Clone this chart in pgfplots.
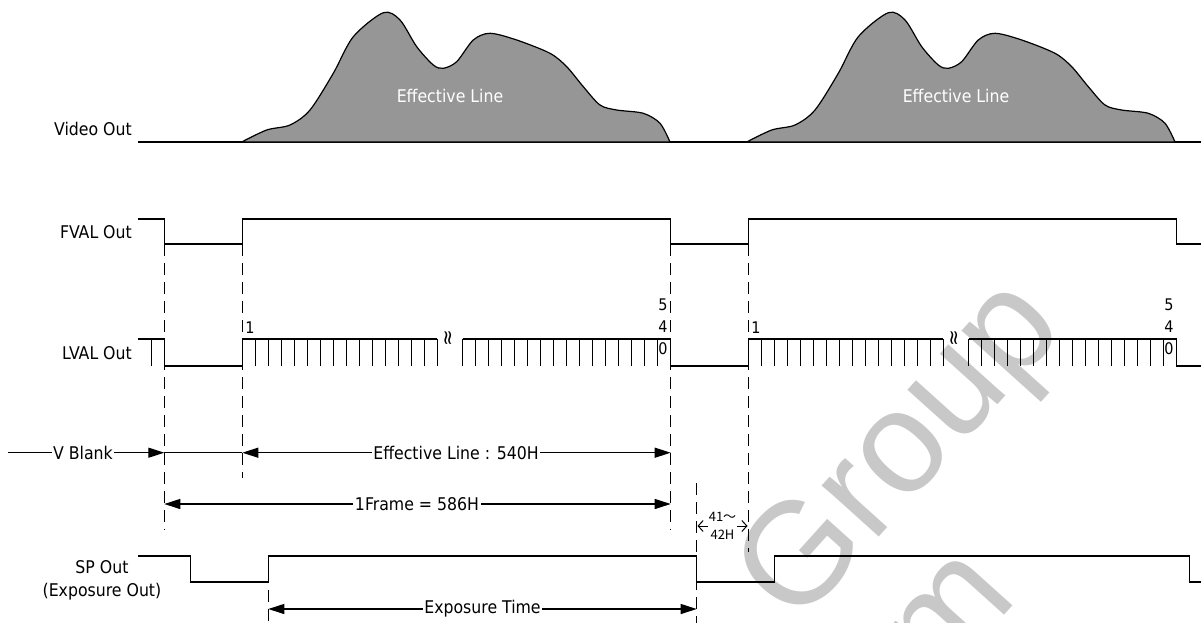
\documentclass[border=0pt]{standalone}
\usepackage{pgfplots}
\pgfplotsset{compat=1.18}
\usetikzlibrary{arrows.meta}
\usepackage{fontspec}
\setmainfont{DejaVu Sans Condensed}
\newfontfamily\cjk{Noto Sans CJK JP}
\newfontfamily\wmfont{Liberation Sans}
\newfontfamily\dvs{DejaVu Sans}
\definecolor{hump}{RGB}{150,150,150}
\definecolor{wm}{RGB}{200,200,200}
\newcommand\lab{\fontsize{17.5}{21}\selectfont}
\begin{document}
\begin{tikzpicture}
\useasboundingbox (0pt,0pt) rectangle (1201pt,623pt);
\begin{scope}
\clip (0pt,0pt) rectangle (1201pt,623pt);
\node[text=wm, rotate=48, font=\wmfont\fontsize{145}{165}\selectfont] at (905pt,168pt) {Group};
\node[text=wm, rotate=48, font=\wmfont\fontsize{145}{165}\selectfont] at (950pt,5pt) {m};
\end{scope}
\begin{axis}[at={(0pt,0pt)}, anchor=south west, width=1201pt, height=623pt, scale only axis,
  xmin=0, xmax=1201, ymin=0, ymax=623, y dir=reverse, hide axis, clip=false, unbounded coords=jump]
% Video baseline
\addplot[black, line width=1.3pt] coordinates {(138,142) (1201,142)};
% humps
\addplot[black, line width=1.2pt, fill=hump, smooth] coordinates {
(241.7,142) (266.7,130) (290,125) (310,110) (333.3,73.3) (353.3,36.7) (383.3,12.7) (400,20) (416.7,46.7) (433.3,65) (443.3,68.3) (456.7,61.7) (473.3,40) (490,33.3) (516.7,40) (550,53.3) (566.7,66.7) (583.3,86.7) (600,105) (616.7,110) (643.3,113.3) (660,123.3) (670,142)} -- cycle;
\addplot[black, line width=1.2pt, fill=hump, smooth] coordinates {
(746.7,142) (771.7,130) (795,125) (815,110) (838.3,73.3) (858.3,36.7) (888.3,12.7) (905,20) (921.7,46.7) (938.3,65) (948.3,68.3) (961.7,61.7) (978.3,40) (995,33.3) (1021.7,40) (1055,53.3) (1071.7,66.7) (1088.3,86.7) (1105,105) (1121.7,110) (1148.3,113.3) (1165,123.3) (1175,142)} -- cycle;
% FVAL
\addplot[black, line width=1.3pt] coordinates {(138,219) (164.3,219) (164.3,244) (242.3,244) (242.3,219) (670.7,219) (670.7,244) (748.3,244) (748.3,219) (1176.7,219) (1176.7,244) (1201,244)};
% LVAL
\addplot[black, line width=1.3pt] coordinates {(138,339) (164.3,339) (164.3,366) (242.3,366) (242.3,339) (437.3,339) (450,nan) (462.7,339) (670.7,339) (670.7,366) (748.3,366) (748.3,339) (943.3,339) (956,nan) (968.7,339) (1176.7,339) (1176.7,366) (1201,366)};
\addplot[only marks, mark=|, mark size=13.5pt, mark options={line width=1.3pt, black}] coordinates {
(151.3,352.5) (255.3,352.5) (268.3,352.5) (281.3,352.5) (294.3,352.5) (307.3,352.5) (320.3,352.5) (333.3,352.5) (346.3,352.5) (359.3,352.5) (372.3,352.5) (385.3,352.5) (398.3,352.5) (411.3,352.5) (424.3,352.5) (437.3,352.5)
(462.7,352.5) (475.7,352.5) (488.7,352.5) (501.7,352.5) (514.7,352.5) (527.7,352.5) (540.7,352.5) (553.7,352.5) (566.7,352.5) (579.7,352.5) (592.7,352.5) (605.7,352.5) (618.7,352.5) (631.7,352.5) (644.7,352.5) (657.7,352.5)
(761.3,352.5) (774.3,352.5) (787.3,352.5) (800.3,352.5) (813.3,352.5) (826.3,352.5) (839.3,352.5) (852.3,352.5) (865.3,352.5) (878.3,352.5) (891.3,352.5) (904.3,352.5) (917.3,352.5) (930.3,352.5) (943.3,352.5)
(968.7,352.5) (981.7,352.5) (994.7,352.5) (1007.7,352.5) (1020.7,352.5) (1033.7,352.5) (1046.7,352.5) (1059.7,352.5) (1072.7,352.5) (1085.7,352.5) (1098.7,352.5) (1111.7,352.5) (1124.7,352.5) (1137.7,352.5) (1150.7,352.5) (1163.7,352.5)};
% SP Out
\addplot[black, line width=1.3pt] coordinates {(138.3,556) (190.7,556) (190.7,582) (268.3,582) (268.3,556) (696.7,556) (696.7,582) (774.3,582) (774.3,556) (1189.3,556) (1189.3,582) (1201,582)};
% dashed guides
\addplot[black, line width=1.2pt, dash pattern=on 12pt off 7pt] coordinates {(164.3,244) (164.3,530)};
\addplot[black, line width=1.2pt, dash pattern=on 12pt off 7pt] coordinates {(242.3,244) (242.3,478)};
\addplot[black, line width=1.2pt, dash pattern=on 12pt off 7pt] coordinates {(670.7,244) (670.7,530)};
\addplot[black, line width=1.2pt, dash pattern=on 12pt off 7pt] coordinates {(748.3,244) (748.3,552)};
\addplot[black, line width=1.2pt, dash pattern=on 12pt off 7pt] coordinates {(696.7,483) (696.7,623)};
\addplot[black, line width=1.2pt, dash pattern=on 12pt off 7pt] coordinates {(268.3,590) (268.3,623)};
% arrows
\addplot[black, line width=1.2pt, -{Triangle[length=16pt,width=10pt]}] coordinates {(8,452.7) (164.3,452.7)};
\addplot[black, line width=1.2pt] coordinates {(164.3,452.7) (242.3,452.7)};
\addplot[black, line width=1.2pt, {Triangle[length=16pt,width=10pt]}-{Triangle[length=16pt,width=10pt]}] coordinates {(242.3,452.7) (670.7,452.7)};
\addplot[black, line width=1.2pt, {Triangle[length=16pt,width=10pt]}-{Triangle[length=16pt,width=10pt]}] coordinates {(164.3,504) (670.7,504)};
\addplot[black, line width=1.2pt, {Triangle[length=16pt,width=10pt]}-{Triangle[length=16pt,width=10pt]}] coordinates {(268.3,609) (696.7,609)};
\addplot[black, line width=1pt, {Straight Barb[length=5pt,width=11pt]}-{Straight Barb[length=5pt,width=11pt]}] coordinates {(697.5,526) (747.5,526)};
% texts
\node[anchor=east, inner sep=0pt, font=\lab] at (axis cs:132,129) {Video Out};
\node[anchor=east, inner sep=0pt, font=\lab] at (axis cs:132,232) {FVAL Out};
\node[anchor=east, inner sep=0pt, font=\lab] at (axis cs:132,353) {LVAL Out};
\node[align=center, inner sep=0pt, font=\fontsize{17.5}{23}\selectfont] at (axis cs:102,580) {SP Out\\(Exposure Out)};
\node[text=white, font=\lab] at (axis cs:450,95.5) {Effective Line};
\node[text=white, font=\lab] at (axis cs:956,95.5) {Effective Line};
\node[fill=white, inner xsep=1.5pt, inner ysep=1pt, font=\lab] at (axis cs:83,452.7) {V Blank};
\node[fill=white, inner xsep=1.5pt, inner ysep=1pt, font=\lab] at (axis cs:456,452.7) {Effective Line : 540H};
\node[fill=white, inner xsep=1.5pt, inner ysep=1pt, font=\lab] at (axis cs:417,504) {1Frame = 586H};
\node[fill=white, inner xsep=1.5pt, inner ysep=1pt, font=\lab] at (axis cs:482.5,609) {Exposure Time};
\node[fill=white, inner sep=0.5pt, align=center, font=\cjk\fontsize{13}{18}\selectfont] at (axis cs:722.5,526) {41～\\42H};
\node[inner sep=0pt, font=\fontsize{16}{22}\selectfont] at (axis cs:250,328) {1};
\node[inner sep=0pt, font=\fontsize{16}{22}\selectfont] at (axis cs:756,328) {1};
\node[inner sep=0pt, align=center, font=\fontsize{16}{22}\selectfont] at (axis cs:663,327) {5\\4\\0};
\node[inner sep=0pt, align=center, font=\fontsize{16}{22}\selectfont] at (axis cs:1169,327) {5\\4\\0};
\node[rotate=90, inner sep=0pt, font=\dvs\fontsize{20}{20}\selectfont] at (axis cs:450,338) {≈};
\node[rotate=90, inner sep=0pt, font=\dvs\fontsize{20}{20}\selectfont] at (axis cs:956,338) {≈};
\end{axis}
\end{tikzpicture}
\end{document}
